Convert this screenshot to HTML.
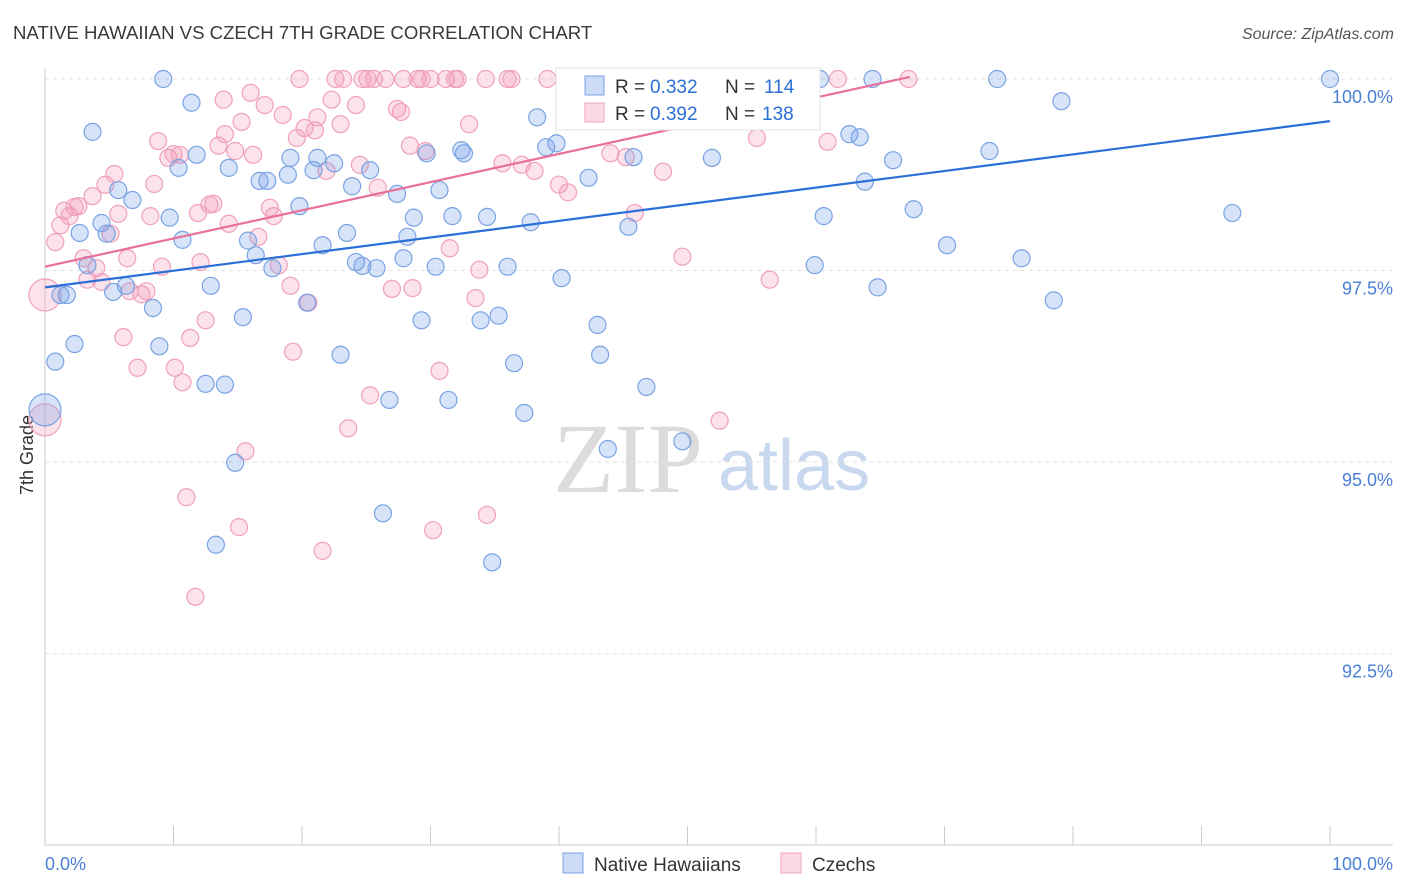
<!DOCTYPE html>
<html><head><meta charset="utf-8"><style>
body{margin:0;background:#fff;font-family:"Liberation Sans",sans-serif}
svg{display:block}
</style></head><body>
<svg id="chart" width="1406" height="892" xmlns="http://www.w3.org/2000/svg">
<text x="13" y="39" font-size="18.6" fill="#3a3a3a" font-family="Liberation Sans">NATIVE HAWAIIAN VS CZECH 7TH GRADE CORRELATION CHART</text>
<text x="1394" y="39" font-size="16" fill="#555" font-style="italic" text-anchor="end">Source: ZipAtlas.com</text>
<text x="553" y="492" font-size="100" fill="#dcdcdc" font-family="Liberation Serif">ZIP</text>
<text x="718" y="490" font-size="72" fill="#c8d8ef">atlas</text>
<text transform="translate(33,455) rotate(-90)" font-size="18" fill="#333" text-anchor="middle">7th Grade</text>
<g id="grid"></g><g id="marks"></g>
<g>
<rect x="556" y="68" width="264" height="62" fill="#fff" stroke="#e3e3e3"/>
<rect x="585" y="76" width="19" height="19" fill="rgba(110,155,230,0.35)" stroke="#7aa3e3"/>
<rect x="585" y="103" width="19" height="19" fill="rgba(245,150,180,0.35)" stroke="#f0a3bd"/>
<text x="615" y="93" font-size="19" fill="#333">R =</text>
<text x="650" y="93" font-size="19" fill="#2a6fd6">0.332</text>
<text x="725" y="93" font-size="19" fill="#333">N =</text>
<text x="764" y="93" font-size="19" fill="#2a6fd6">114</text>
<text x="615" y="120" font-size="19" fill="#333">R =</text>
<text x="650" y="120" font-size="19" fill="#2a6fd6">0.392</text>
<text x="725" y="120" font-size="19" fill="#333">N =</text>
<text x="762" y="120" font-size="19" fill="#2a6fd6">138</text>
</g>
<g>
<rect x="563" y="853" width="20" height="20" fill="rgba(110,155,230,0.35)" stroke="#7aa3e3"/>
<text x="594" y="871" font-size="19" fill="#333">Native Hawaiians</text>
<rect x="781" y="853" width="20" height="20" fill="rgba(245,150,180,0.35)" stroke="#f0a3bd"/>
<text x="812" y="871" font-size="19" fill="#333">Czechs</text>
</g>
</svg>
<script>
const yTicks=[100,97.5,95,92.5];
const yTickLabels=["100.0%","97.5%","95.0%","92.5%"];
const xTicks=[0,10,20,30,40,50,60,70,80,90,100];
const xTickLabels=["0.0%","100.0%"];
const blueX=[9.2,11.4,3.7,0,0.8,1.7,1.2,2.3,2.7,3.3,4.4,4.8,5.3,5.7,6.3,6.8,8.4,8.9,9.7,10.4,10.7,11.8,12.5,12.9,13.3,14.0,14.3,14.8,15.4,15.8,16.4,16.7,17.3,17.7,18.9,19.1,19.8,20.4,20.9,21.2,21.6,22.5,23.0,23.5,23.9,24.2,24.7,25.3,25.8,26.3,26.8,27.4,27.9,28.2,28.7,29.3,29.7,30.4,30.7,31.4,31.7,32.4,32.6,33.9,34.4,34.8,35.3,36.0,36.5,37.3,37.8,38.3,39.0,39.8,40.2,42.3,43.0,43.2,43.8,45.4,45.8,46.8,49.6,51.9,59.9,60.6,62.6,63.4,63.8,64.4,64.8,66.0,67.6,70.2,73.5,74.1,76.0,78.5,79.1,92.4,100,41.5,46.3,60.3];
const blueY=[100,99.69,99.31,95.68,96.31,97.18,97.18,96.54,97.99,97.57,98.12,97.98,97.22,98.55,97.30,98.42,97.01,96.51,98.19,98.84,97.90,99.01,96.02,97.30,93.92,96.01,98.84,94.99,96.89,97.89,97.70,98.67,98.67,97.53,98.75,98.97,98.34,97.08,98.81,98.97,97.83,98.90,96.40,97.99,98.60,97.61,97.56,98.81,97.53,94.33,95.81,98.50,97.66,97.94,98.19,96.85,99.03,97.55,98.55,95.81,98.21,99.07,99.03,96.85,98.20,93.69,96.91,97.55,96.29,95.64,98.13,99.50,99.11,99.16,97.40,98.71,96.79,96.40,95.17,98.07,98.98,95.98,95.27,98.97,97.57,98.21,99.28,99.24,98.66,100,97.28,98.94,98.30,97.83,99.06,100,97.66,97.11,99.71,98.25,100,100,100,100];
const pinkX=[0,0,0.8,1.2,1.5,1.9,2.3,2.6,3.0,3.3,3.7,4.0,4.4,4.7,5.1,5.4,5.7,6.1,6.4,6.6,7.2,7.5,7.9,8.2,8.5,8.8,9.1,9.6,10.0,10.1,10.5,10.7,11.0,11.3,11.7,11.9,12.1,12.5,12.8,13.1,13.5,13.9,14.0,14.3,14.8,15.1,15.3,15.6,16.0,16.2,16.6,17.1,17.5,17.8,18.2,18.5,19.1,19.3,19.6,19.8,20.2,20.5,21.0,21.2,21.6,21.9,22.3,22.6,23.0,23.2,23.6,24.2,24.5,24.7,25.1,25.3,25.6,25.9,26.5,27.0,27.4,27.7,27.9,28.4,28.6,29.0,29.3,29.6,30.0,30.2,30.7,31.2,31.5,31.9,32.1,33.0,33.5,33.8,34.4,34.3,35.6,36.0,36.3,37.1,38.1,39.1,40.0,40.7,41.5,42.5,44.0,45.2,45.7,45.9,48.1,49.6,52.5,55.6,55.4,56.4,60.9,61.7,67.2];
const pinkY=[97.18,95.55,97.87,98.09,98.28,98.21,98.33,98.34,97.66,97.38,98.47,97.53,97.35,98.62,97.98,98.76,98.24,96.63,97.66,97.23,96.23,97.19,97.23,98.21,98.63,99.19,97.55,98.97,99.02,96.23,99.01,96.04,94.54,96.62,93.24,98.25,97.61,96.85,98.36,98.37,99.13,99.73,99.28,98.11,99.06,94.15,99.44,95.14,99.82,99.01,97.94,99.66,98.32,98.21,97.57,99.53,97.30,96.44,99.23,100,99.36,97.08,99.33,99.50,93.84,98.80,99.73,100,99.41,100,95.44,99.66,98.88,100,100,95.87,100,98.58,100,97.26,99.61,99.57,100,99.13,97.27,100,100,99.06,100,94.11,96.19,100,97.79,100,100,99.41,97.14,97.51,94.31,100,98.90,100,100,98.88,98.80,100,98.62,98.52,100,100,99.03,98.98,100,98.25,98.79,97.68,95.54,100,99.23,97.38,99.18,100,100];
const bigPoints=[3];const bigPink=[0,1];
const trendIntercept=[97.28,97.55];
const trendSlope=[0.0217,0.0368];
const trendEnd=[100,67.3];

const NS="http://www.w3.org/2000/svg";
const sx=v=>45+v*12.85;
const sy=v=>79+(100-v)*76.6;
function mk(tag,attrs,parent){const e=document.createElementNS(NS,tag);for(const k in attrs)e.setAttribute(k,attrs[k]);parent.appendChild(e);return e;}
const grid=document.getElementById('grid');
const marks=document.getElementById('marks');
yTicks.forEach((t,i)=>{
  const l=mk('line',{x1:45,x2:1393,y1:sy(t),y2:sy(t),stroke:'#e2e2e2','stroke-dasharray':'4,4'},grid);
  
  
  const tx=mk('text',{x:1393,y:sy(t)+24,'font-size':18,fill:'#4a7fd6','text-anchor':'end'},grid);
  tx.textContent=yTickLabels[i];
  
  
});
const ax=mk('line',{x1:45,x2:1393,y1:845,y2:845,stroke:'#ccc'},grid);


const ay=mk('line',{x1:45,x2:45,y1:68,y2:845,stroke:'#ccc'},grid);


xTicks.forEach(t=>{
  const l=mk('line',{x1:sx(t),x2:sx(t),y1:826,y2:845,stroke:'#ccc'},grid);
  
  
});
const xl0=mk('text',{x:45,y:870,'font-size':18,fill:'#4a7fd6'},grid);xl0.textContent=xTickLabels[0];


const xl1=mk('text',{x:1393,y:870,'font-size':18,fill:'#4a7fd6','text-anchor':'end'},grid);xl1.textContent=xTickLabels[1];



function drawSeries(X,Y,big,fill,stroke,name){
  X.forEach((x,i)=>{
    const r=big.includes(i)?16:8.5;
    const c=mk('circle',{cx:sx(x),cy:sy(Y[i]),r:r,fill:fill,stroke:stroke,'stroke-width':1.2},marks);
    
    
  });
}
drawSeries(pinkX,pinkY,bigPink,'rgba(245,150,180,0.28)','#f0a0bb','czech-point');
drawSeries(blueX,blueY,bigPoints,'rgba(110,155,230,0.28)','#7aa3e3','native-hawaiian-point');
const colors=['#2a6fd6','#e8709a'];
const names=['native-hawaiian-trendline','czech-trendline'];
[0,1].forEach(i=>{
  const l=mk('line',{x1:sx(0),y1:sy(trendIntercept[i]),x2:sx(trendEnd[i]),y2:sy(trendIntercept[i]+trendSlope[i]*trendEnd[i]),stroke:colors[i],'stroke-width':2.2},marks);
  
  
});
</script>
</body></html>
